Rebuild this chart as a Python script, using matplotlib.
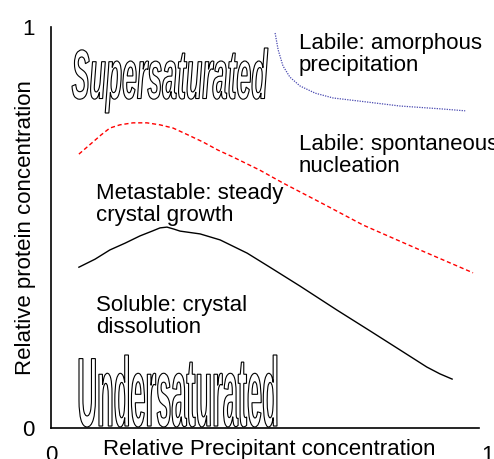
import matplotlib
matplotlib.use("Agg")
import matplotlib.pyplot as plt
from matplotlib.textpath import TextPath
from matplotlib.font_manager import FontProperties
from matplotlib.patches import PathPatch
from matplotlib.path import Path
import numpy as np

# ---- data (axes fraction units, 0..1) ----
solubility_x = [0.064, 0.101, 0.135, 0.170, 0.204, 0.232, 0.250, 0.266, 0.282, 0.296, 0.342,
                0.388, 0.450, 0.502, 0.571, 0.656, 0.732, 0.800, 0.862, 0.892, 0.920]
solubility_y = [0.401, 0.421, 0.444, 0.461, 0.479, 0.491, 0.499, 0.501, 0.496, 0.491, 0.484,
                0.469, 0.436, 0.401, 0.354, 0.294, 0.242, 0.195, 0.152, 0.135, 0.122]

nucleation_x = [0.064, 0.080, 0.096, 0.115, 0.135, 0.158, 0.188, 0.220, 0.250, 0.280, 0.314,
                0.349, 0.383, 0.417, 0.479, 0.532, 0.624, 0.716, 0.842, 0.968]
nucleation_y = [0.683, 0.698, 0.713, 0.731, 0.748, 0.756, 0.761, 0.761, 0.756, 0.748, 0.731,
                0.713, 0.693, 0.676, 0.643, 0.611, 0.559, 0.506, 0.446, 0.387]

precip_x = [0.514, 0.521, 0.532, 0.548, 0.571, 0.606, 0.647, 0.709, 0.800, 0.892, 0.950]
precip_y = [0.985, 0.943, 0.903, 0.875, 0.853, 0.835, 0.823, 0.815, 0.803, 0.796, 0.791]

x_ticks = [0, 1]
x_tick_labels = ["0", "1"]
y_ticks = [0, 1]
y_tick_labels = ["0", "1"]

region_labels = ["Labile: amorphous\nprecipitation",
                 "Labile: spontaneous\nnucleation",
                 "Metastable: steady\ncrystal growth",
                 "Soluble: crystal\ndissolution"]
outline_labels = ["Supersaturated", "Undersaturated"]

W, H = 494, 459
fig = plt.figure(figsize=(W / 100, H / 100), dpi=100)
ax_left, ax_right, ax_top, ax_bot = 51, 487, 27, 428
ax = fig.add_axes([ax_left / W, (H - ax_bot) / H, (ax_right - ax_left) / W, (ax_bot - ax_top) / H])
ax.set_xlim(0, 1)
ax.set_ylim(0, 1)
for s in ["top", "right"]:
    ax.spines[s].set_visible(False)
ax.spines["left"].set_linewidth(1.2)
ax.spines["bottom"].set_linewidth(1.2)
ax.spines["bottom"].set_bounds(0, (479 - ax_left) / (ax_right - ax_left))

font = "Liberation Sans"
fs = 16
ax.set_xticks(x_ticks)
ax.set_xticklabels(x_tick_labels, fontsize=fs, family=font)
ax.set_yticks(y_ticks)
ax.set_yticklabels(y_tick_labels, fontsize=fs, family=font)
ax.tick_params(axis="both", length=0)
ax.tick_params(axis="x", pad=12)
ax.tick_params(axis="y", pad=12)
ax.set_xlabel("Relative Precipitant concentration", fontsize=fs, family=font, labelpad=-19)
ax.set_ylabel("Relative protein concentration", fontsize=fs, family=font, labelpad=-10)

ax.plot(solubility_x, solubility_y, color="black", lw=1.0)
ax.plot(nucleation_x, nucleation_y, color="red", lw=1.0, linestyle=(0, (3, 2)))
ax.plot(precip_x, precip_y, color="#4848b0", lw=0.9, linestyle=(0, (1, 1)))


def px2data(px, py):
    return (px - ax_left) / (ax_right - ax_left), (ax_bot - py) / (ax_bot - ax_top)


def text_at(px, py_last_baseline, s):
    x, y = px2data(px, py_last_baseline)
    ax.text(x, y, s, fontsize=fs, family=font, va="baseline", ha="left", linespacing=1.07)


text_at(299, 71, region_labels[0])
text_at(299, 172, region_labels[1])
text_at(96, 221, region_labels[2])
text_at(96, 333, region_labels[3])


def pick_font(names, weight, style):
    for n in names:
        fp = FontProperties(family=n, weight=weight, style=style)
        try:
            matplotlib.font_manager.findfont(fp, fallback_to_default=False)
            return fp
        except Exception:
            continue
    return FontProperties(family="DejaVu Sans", weight=weight, style=style)


def outline_text(s, box, fp):
    x0, y0, x1, y1 = box  # pixel box: left, top, right, bottom
    tp = TextPath((0, 0), s, size=100, prop=fp)
    verts = tp.vertices.copy()
    bb = tp.get_extents()
    u = (verts[:, 0] - bb.x0) / bb.width
    v = (verts[:, 1] - bb.y0) / bb.height
    px = x0 + u * (x1 - x0)
    py = y1 - v * (y1 - y0)
    dx, dy = px2data(px, py)
    path = Path(np.column_stack([dx, dy]), tp.codes)
    patch = PathPatch(path, facecolor="white", edgecolor="black", lw=0.8, clip_on=False)
    ax.add_patch(patch)


fp_it = pick_font(["Liberation Sans Narrow", "Liberation Sans"], "bold", "italic")
fp_up = pick_font(["Liberation Sans Narrow", "Liberation Sans"], "bold", "normal")
outline_text(outline_labels[0], (72, 48, 268, 113), fp_it)
outline_text(outline_labels[1], (79, 355, 277, 427), fp_up)

fig.savefig("out.png", dpi=100)
